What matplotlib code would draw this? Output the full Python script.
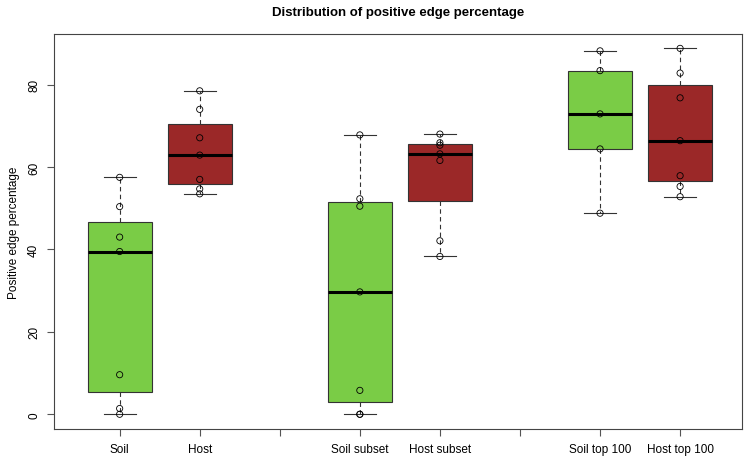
import numpy as np
import matplotlib.pyplot as plt

plt.rcParams['font.family'] = ['Liberation Sans', 'DejaVu Sans']

# groups shown on the x axis (blank slots at 3 and 6 separate the pairs)
tick_labels = ["Soil", "Host", "", "Soil subset", "Host subset", "",
               "Soil top 100", "Host top 100"]
group_pos = [1, 2, 4, 5, 7, 8]

soil = [0.0, 1.4, 9.6, 39.5, 43.0, 50.4, 57.5]
host = [53.5, 54.7, 57.0, 62.9, 67.1, 74.0, 78.5]
soil_subset = [0.0, 0.0, 5.8, 29.7, 50.5, 52.3, 67.8]
host_subset = [38.3, 42.1, 61.6, 63.2, 65.3, 65.9, 68.0]
soil_top100 = [48.8, 64.4, 72.9, 83.4, 88.2]
host_top100 = [52.8, 55.3, 57.9, 66.4, 76.8, 82.8, 88.8]

groups = [soil, host, soil_subset, host_subset, soil_top100, host_top100]
colors = ["#7acc46", "#9b2828"] * 3


def fivenum(x):
    # Tukey hinges, as R's boxplot uses
    x = np.sort(np.asarray(x, dtype=float))
    n = len(x)
    n4 = np.floor((n + 3) / 2) / 2
    d = np.array([1, n4, (n + 1) / 2, n + 1 - n4, n])
    return 0.5 * (x[(np.floor(d) - 1).astype(int)] + x[(np.ceil(d) - 1).astype(int)])


stats = []
for g in groups:
    lo, q1, med, q3, hi = fivenum(g)
    iqr = q3 - q1
    arr = np.asarray(g)
    wlo = arr[arr >= q1 - 1.5 * iqr].min()
    whi = arr[arr <= q3 + 1.5 * iqr].max()
    stats.append(dict(med=med, q1=q1, q3=q3, whislo=wlo, whishi=whi, fliers=[]))

fig = plt.figure(figsize=(7.5, 4.6), dpi=100)
ax = fig.add_axes([0.072, 0.065, 0.917, 0.859])

bp = ax.bxp(stats, positions=group_pos, widths=0.8, patch_artist=True,
            boxprops=dict(edgecolor="#333333", linewidth=0.8),
            medianprops=dict(color="black", linewidth=2.2),
            whiskerprops=dict(color="#333333", linewidth=0.8, linestyle=(0, (4, 3))),
            capprops=dict(color="#333333", linewidth=0.8),
            capwidths=0.4)
for patch, c in zip(bp["boxes"], colors):
    patch.set_facecolor(c)

for pos, g in zip(group_pos, groups):
    ax.scatter([pos] * len(g), g, s=20, facecolors="none", edgecolors="black",
               linewidths=0.6, zorder=5)

ax.set_xlim(0.18, 8.77)
ax.set_ylim(-3.6, 92.3)
ax.set_xticks(range(1, 9))
ax.set_xticklabels(tick_labels, fontsize=8.5)
ax.set_yticks([0, 20, 40, 60, 80])
ax.set_yticklabels(["0", "20", "40", "60", "80"], rotation=90, va="center", fontsize=8.5)
ax.tick_params(axis="both", color="#555555", length=5, width=0.8, pad=5)
for s in ax.spines.values():
    s.set_color("#444444")
    s.set_linewidth(0.8)

ax.set_ylabel("Positive edge percentage", fontsize=8.5, labelpad=6)
ax.set_title("Distribution of positive edge percentage", fontsize=9.5,
             fontweight="bold", pad=14)

fig.savefig("out.png", dpi=100)
